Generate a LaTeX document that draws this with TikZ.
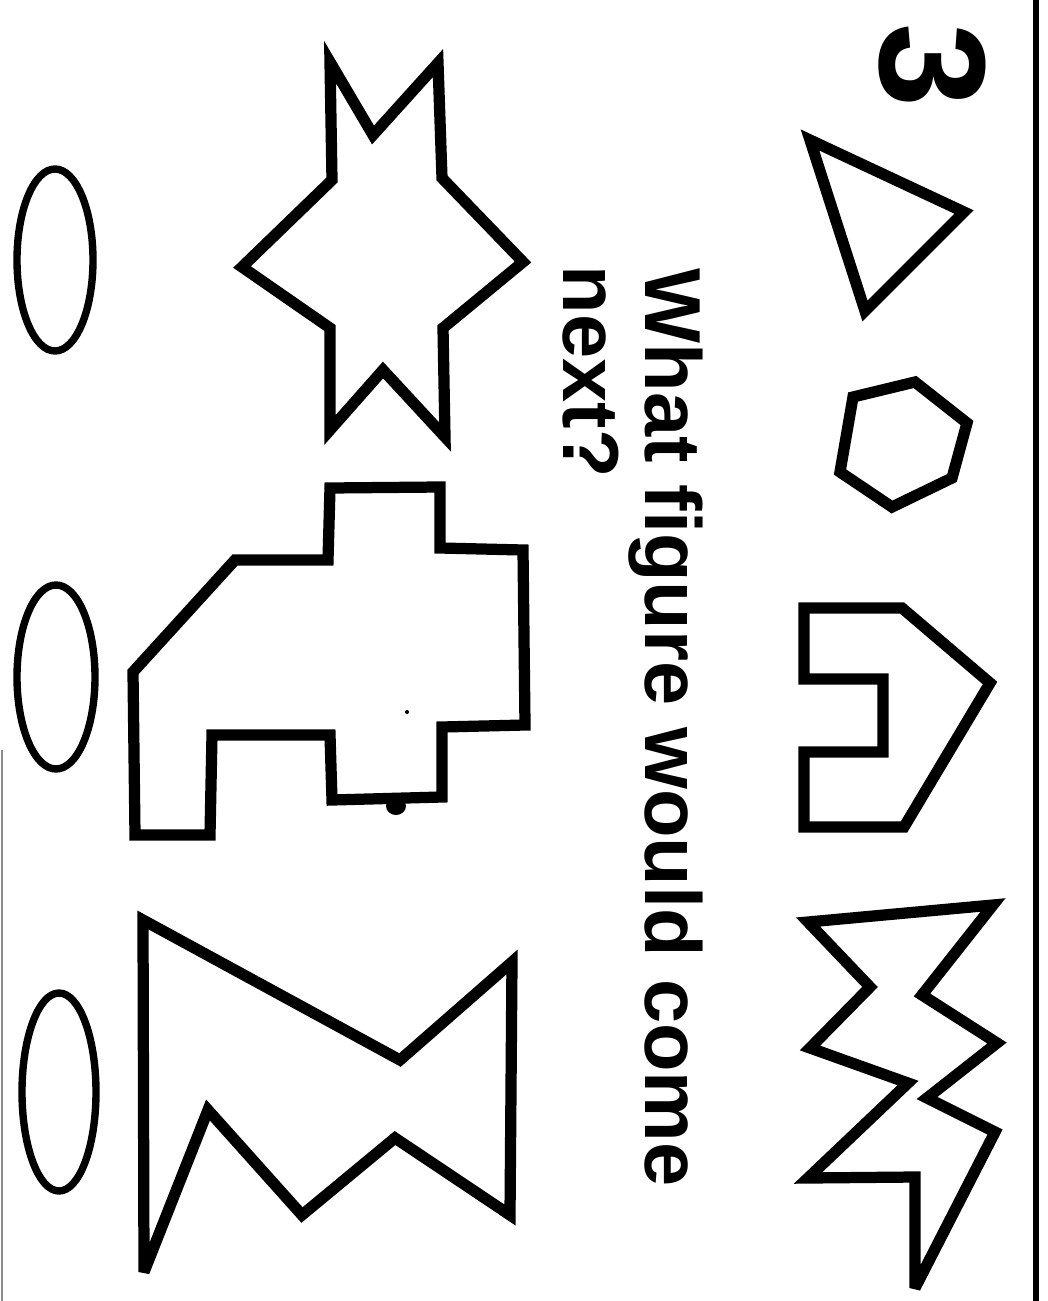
\documentclass[tikz,border=0pt]{standalone}
\usepackage{fontspec}
\setmainfont{Liberation Sans}
\begin{document}
\begin{tikzpicture}[x=0.1mm,y=-0.1mm,
  figline/.style={draw=black,line width=3.2pt,line join=miter,miter limit=4},
  ovalline/.style={draw=black,line width=2.1pt},
  txt/.style={inner sep=0pt,rotate=-90,anchor=base west,font=\fontsize{22.6pt}{27pt}\selectfont\bfseries}]
\useasboundingbox (0,0) rectangle (1047,1301);
\fill[white] (0,0) rectangle (1047,1301);
% border lines
\draw[line width=1.6pt] (1036,0) -- (1036,1301);
\draw[line width=0.5pt,black!45] (2,750) -- (2,1301);
% number
\node[inner sep=0pt,rotate=-90,font=\fontsize{43pt}{48pt}\selectfont\bfseries] (num) at (932,66) {3};
% question
\node[txt] (q1) at (645,268) {What figure would come};
\node[txt] (q2) at (563,265) {next?};
% sequence
\draw[figline] (810,140) -- (964,212) -- (865,311) -- cycle;
\draw[figline] (915,382) -- (967,423) -- (952,478) -- (892,507) -- (840,472) -- (853,397) -- cycle;
\draw[figline] (804,608) -- (902,608) -- (990,683) -- (904,827) -- (804,827) -- (804,752) -- (883,752) -- (883,679) -- (804,679) -- cycle;
\draw[figline] (808,922) -- (993,905) -- (922,995) -- (997,1043) -- (927,1098) -- (995,1132) -- (915,1288) -- (915,1177) -- (808,1178) -- (908,1083) -- (810,1048) -- (870,987) -- cycle;
% answer options
\draw[figline] (330,62) -- (373,135) -- (438,63) -- (442,178) -- (523,262) -- (443,328) -- (445,437) -- (383,370) -- (330,430) -- (330,328) -- (242,267) -- (332,180) -- cycle;
\draw[figline] (330,488) -- (440,487) -- (440,548) -- (523,550) -- (525,725) -- (442,727) -- (442,797) -- (332,800) -- (330,735) -- (212,735) -- (210,835) -- (135,835) -- (133,672) -- (235,560) -- (328,560) -- cycle;
\fill (396,806) ellipse [x radius=10,y radius=9];
\fill (407,712) circle [radius=2];
\draw[figline] (143,920) -- (400,1060) -- (512,962) -- (510,1215) -- (395,1138) -- (302,1215) -- (208,1110) -- (144,1272) -- cycle;
% answer ovals
\draw[ovalline] (55,260) ellipse [x radius=38,y radius=91];
\draw[ovalline] (56,677) ellipse [x radius=39,y radius=92];
\draw[ovalline] (59,1092) ellipse [x radius=37,y radius=99];
\end{tikzpicture}
\end{document}
